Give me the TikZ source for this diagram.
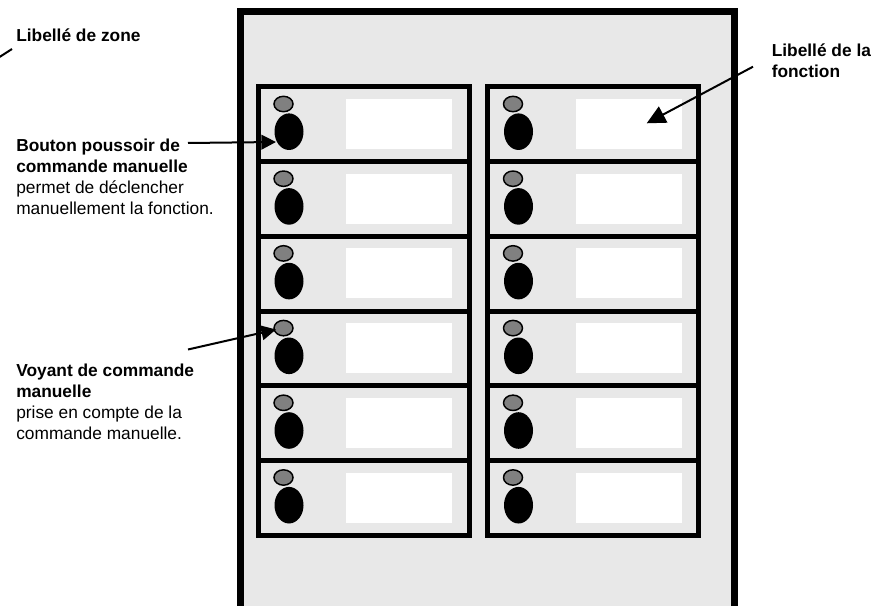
\documentclass[tikz,border=0pt]{standalone}
\usepackage{fontspec}
\setmainfont{Liberation Sans}
\usetikzlibrary{arrows.meta}

\definecolor{panelgray}{HTML}{E8E8E8}
\definecolor{ledgray}{HTML}{808080}

\tikzset{
  callout/.style={font=\fontsize{13}{15.75}\selectfont, align=left, inner sep=0pt},
  pointer/.style={line width=1.5pt, -{Triangle[length=11pt,width=11pt]}},
  bigpointer/.style={line width=1.5pt, -{Triangle[length=14pt,width=13.5pt]}},
}

\begin{document}
\begin{tikzpicture}[x=0.75pt,y=-0.75pt]
        \useasboundingbox (0,0) rectangle (878,606);
        \clip (0,0) rectangle (878,606);

        % panel
        \draw[line width=5.25pt, fill=panelgray] (240,11.5) rectangle (734,620);

        % two columns of six cells
        \foreach \cx in {258,487.5} {
          \foreach \r in {0,...,5} {
            \pgfmathsetmacro\ry{87+74.7*\r}
            \draw[line width=3.75pt, fill=panelgray] (\cx,\ry) rectangle (\cx+211,\ry+74.7);
            \fill[white] (\cx+88,\ry+12) rectangle (\cx+194,\ry+62);
            \filldraw[fill=ledgray, draw=black, line width=1.1pt] (\cx+25.5,\ry+17) ellipse (9.5 and 7.7);
            \fill[black] (\cx+31,\ry+44.7) ellipse (14.5 and 18.3);
          }
        }

        % labels
        \node[callout, font=\fontsize{13}{15.75}\selectfont\bfseries, anchor=base west] (zonelbl) at (16,41.7) {Libellé de zone};
        \node[callout, anchor=north west] (boutonlbl) at (16,139) {\textbf{Bouton poussoir de}\\\textbf{commande manuelle}\\permet de déclencher\\manuellement la fonction.};
        \node[callout, anchor=north west] (voyantlbl) at (16,364) {\textbf{Voyant de commande}\\\textbf{manuelle}\\prise en compte de la\\commande manuelle.};
        \node[callout, anchor=north west] (fonctionlbl) at (771.5,44) {\textbf{Libellé de la}\\\textbf{fonction}};

        % pointers
        \coordinate (zonefrom) at (-2,58);
        \coordinate (zoneto) at (12,49);
        \coordinate (boutonfrom) at (188,143);
        \coordinate (boutonto) at (276,142);
        \coordinate (voyantfrom) at (188,349.5);
        \coordinate (voyantto) at (276,329.5);
        \coordinate (fonctionfrom) at (753,66.7);
        \coordinate (fonctionto) at (646.7,123.3);

        \draw[line width=1.5pt] (zonefrom) -- (zoneto);
        \draw[pointer] (boutonfrom) -- (boutonto);
        \draw[pointer] (voyantfrom) -- (voyantto);
        \draw[bigpointer] (fonctionfrom) -- (fonctionto);
\end{tikzpicture}
\end{document}
